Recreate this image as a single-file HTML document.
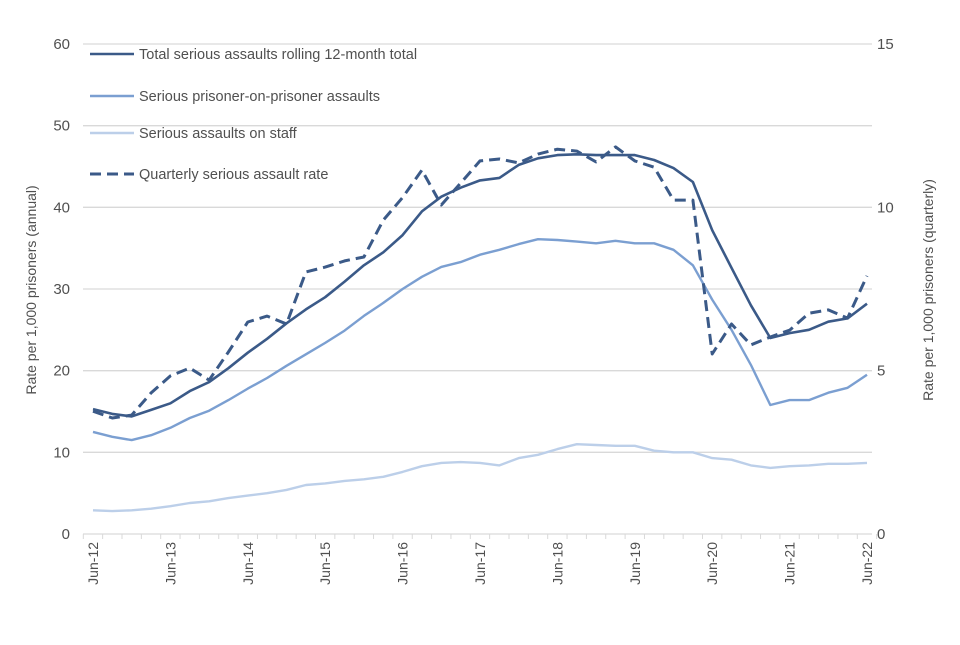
<!DOCTYPE html>
<html><head><meta charset="utf-8"><style>
body{margin:0;background:#fff;font-family:"Liberation Sans",sans-serif}
svg text{font-family:"Liberation Sans",sans-serif;fill:#505050}
</style></head><body>
<svg id="c" width="960" height="640"></svg>
<script>
const labels=["Jun-12","Jun-13","Jun-14","Jun-15","Jun-16","Jun-17","Jun-18","Jun-19","Jun-20","Jun-21","Jun-22"];
const total=[15.3,14.7,14.4,15.2,16.0,17.5,18.6,20.3,22.2,23.9,25.8,27.5,29.0,30.9,32.9,34.5,36.6,39.5,41.3,42.4,43.3,43.6,45.2,46.0,46.4,46.5,46.4,46.4,46.4,45.8,44.8,43.1,37.2,32.6,28.0,24.0,24.6,25.0,26.0,26.4,28.2];
const pop=[12.5,11.9,11.5,12.1,13.0,14.2,15.1,16.4,17.8,19.1,20.6,22.0,23.4,24.9,26.7,28.3,30.0,31.5,32.7,33.3,34.2,34.8,35.5,36.1,36.0,35.8,35.6,35.9,35.6,35.6,34.8,32.9,28.7,25.0,20.7,15.8,16.4,16.4,17.3,17.9,19.5];
const staff=[2.9,2.8,2.9,3.1,3.4,3.8,4.0,4.4,4.7,5.0,5.4,6.0,6.2,6.5,6.7,7.0,7.6,8.3,8.7,8.8,8.7,8.4,9.3,9.7,10.4,11.0,10.9,10.8,10.8,10.2,10.0,10.0,9.3,9.1,8.4,8.1,8.3,8.4,8.6,8.6,8.7];
const quarterly=[3.76,3.55,3.64,4.32,4.84,5.08,4.71,5.57,6.49,6.67,6.43,8.02,8.17,8.36,8.48,9.61,10.3,11.14,10.07,10.74,11.42,11.48,11.36,11.63,11.78,11.72,11.39,11.85,11.42,11.23,10.22,10.22,5.51,6.43,5.79,6.03,6.24,6.76,6.86,6.61,7.90];
const leftTicks=[0,10,20,30,40,50,60];
const rightTicks=[0,5,10,15];
const NS="http://www.w3.org/2000/svg",svg=document.getElementById('c');
const X0=93,X1=867,Y0=534,Y1=44;
const n=total.length;
const x=i=>X0+(X1-X0)*i/(n-1);
const yL=v=>Y0-(Y0-Y1)*v/60;
const yR=v=>Y0-(Y0-Y1)*v/15;
function mk(t,a,p){const e=document.createElementNS(NS,t);for(const k in a)e.setAttribute(k,a[k]);(p||svg).appendChild(e);return e;}
leftTicks.forEach(v=>{
 if(v>0){const g=mk('line',{x1:X0-10,x2:X1+5,y1:yL(v),y2:yL(v),stroke:'#d9d9d9','stroke-width':1.3});
 
 }
 const t=mk('text',{x:70,y:yL(v)+5,'text-anchor':'end','font-size':15});t.textContent=v;
 
 
});
rightTicks.forEach(v=>{const t=mk('text',{x:877,y:yR(v)+5,'font-size':15});t.textContent=v;
 
 });
const ax=mk('line',{x1:X0-10,x2:X1+5,y1:Y0,y2:Y0,stroke:'#d9d9d9','stroke-width':1.3});


for(let i=0;i<=n;i++){const xx=X0-9.7+(X1-X0)/(n-1)*i;mk('line',{x1:xx,x2:xx,y1:Y0,y2:Y0+5,stroke:'#d9d9d9'});}
labels.forEach((l,k)=>{const xx=x(k*4);const t=mk('text',{transform:`translate(${xx+5},${Y0+8}) rotate(-90)`,'text-anchor':'end','font-size':14});t.textContent=l;
 
 });
function line(arr,f,col,w,dash,name){const d=arr.map((v,i)=>(i?'L':'M')+x(i).toFixed(1)+','+f(v).toFixed(1)).join('');
 const p=mk('path',{d,fill:'none',stroke:col,'stroke-width':w,'stroke-dasharray':dash||'none','stroke-linejoin':'round'});
 
 }
line(staff,yL,'#bccfe9',2.4,null,'staff-assaults-line');
line(pop,yL,'#7b9fd1',2.4,null,'prisoner-on-prisoner-line');
line(total,yL,'#3b5a88',2.6,null,'total-assaults-line');
line(quarterly,yR,'#3b5a88',3,'11,6','quarterly-rate-line');
const leg=[['Total serious assaults rolling 12-month total','#3b5a88',null,54],['Serious prisoner-on-prisoner assaults','#7b9fd1',null,96],['Serious assaults on staff','#bccfe9',null,133],['Quarterly serious assault rate','#3b5a88','11,6',174]];
leg.forEach(([t,c,d,yy])=>{const g=mk('g',{});
 
 
 mk('line',{x1:90,x2:134,y1:yy,y2:yy,stroke:c,'stroke-width':d?3:2.6,'stroke-dasharray':d||'none'},g);
 const tx=mk('text',{x:139,y:yy+5,'font-size':14.5},g);tx.textContent=t;});
const lt=mk('text',{transform:'translate(36,290) rotate(-90)','text-anchor':'middle','font-size':14});lt.textContent='Rate per 1,000 prisoners (annual)';


const rt=mk('text',{transform:'translate(933,290) rotate(-90)','text-anchor':'middle','font-size':14});rt.textContent='Rate per 1,000 prisoners (quarterly)';


</script>
</body></html>
